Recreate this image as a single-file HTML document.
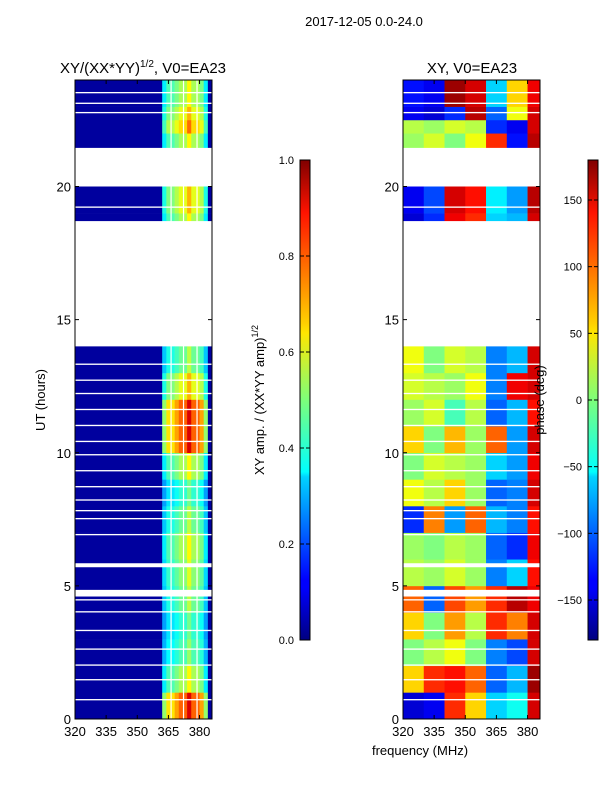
<!DOCTYPE html>
<html><head><meta charset="utf-8">
<style>
body{margin:0;background:#fff;}
svg{display:block;font-family:"Liberation Sans",sans-serif;}
</style></head>
<body>
<svg id="fig" width="600" height="800" viewBox="0 0 600 800">
<defs>
<linearGradient id="jetV" x1="0" y1="1" x2="0" y2="0">
<stop offset="0" stop-color="#000080"/><stop offset="0.11" stop-color="#0000ff"/>
<stop offset="0.125" stop-color="#0000ff"/><stop offset="0.34" stop-color="#00d4ff"/>
<stop offset="0.35" stop-color="#0ff"/><stop offset="0.5" stop-color="#7dff7a"/>
<stop offset="0.64" stop-color="#ffe600"/><stop offset="0.66" stop-color="#ffd000"/>
<stop offset="0.89" stop-color="#ff1300"/><stop offset="1" stop-color="#800000"/>
</linearGradient>
</defs>
<text x="364" y="26" font-size="13" text-anchor="middle">2017-12-05 0.0-24.0</text>
<g id="left"></g>
<g id="right"></g>
<text x="143" y="73" font-size="15" text-anchor="middle">XY/(XX*YY)<tspan dy="-6" font-size="10">1/2</tspan><tspan dy="6">, V0=EA23</tspan></text>
<text x="472" y="73" font-size="15" text-anchor="middle">XY, V0=EA23</text>
<text transform="translate(45,400) rotate(-90)" font-size="13" text-anchor="middle">UT (hours)</text>
<text x="420" y="755" font-size="13" text-anchor="middle">frequency (MHz)</text>
<g>
<rect x="300" y="160" width="10" height="480" fill="url(#jetV)" stroke="#000" stroke-width="1"/>
<g id="cb1"></g>
<text transform="translate(264,400) rotate(-90)" font-size="13" text-anchor="middle">XY amp. / (XX*YY amp)<tspan dy="-6" font-size="9">1/2</tspan></text>
</g>
<g>
<rect x="588" y="160" width="10" height="480" fill="url(#jetV)" stroke="#000" stroke-width="1"/>
<g id="cb2"></g>
<text transform="translate(544,400) rotate(-90)" font-size="13" text-anchor="middle">phase (deg)</text>
</g>
</svg>
<script>
// ---- data ----
const hours = [0,1,2,3,4,5,6,7,8,9,10,11,12,13,18.7,19,21.45,22,22.5,23];
const hourEnds = [1,2,3,4,5,6,7,8,9,10,11,12,13,14,19,20,22,22.5,23,24];
const ampLevel = [1.3,0.9,0.75,0.7,0.8,0.85,0.9,0.8,0.7,0.9,1.3,1.3,1.0,0.8,0.9,1.0,0.9,1.1,1.0,0.9];
const ampFreqs = [320,362,364,368,370,374,376,380,382,384];
const ampFreqEnds = [362,364,368,370,374,376,380,382,384,386];
const ampBase = [0.03,0.4,0.5,0.55,0.6,0.7,0.6,0.55,0.4,0.03];
const phaseFreqs = [320,330,340,350,360,370,380];
const phaseFreqEnds = [330,340,350,360,370,380,386];
const phaseVals = [
 [-150,-140,120,60,-60,-40,150],
 [60,120,130,100,-100,-70,170],
 [0,20,40,0,-90,-110,150],
 [60,0,80,20,120,90,150],
 [100,-100,110,80,120,160,140],
 [20,10,30,10,-90,-60,130],
 [10,0,20,10,-100,-120,140],
 [-120,90,-80,100,-70,-90,130],
 [40,20,60,10,-100,-90,150],
 [0,30,20,10,-60,-80,140],
 [60,0,70,10,100,-80,150],
 [10,30,-20,20,-100,-70,130],
 [30,20,10,40,-90,140,150],
 [40,0,30,20,-90,-70,150],
 [-150,-120,140,120,-60,-70,150],
 [-140,-110,150,130,-50,-80,160],
 [10,30,0,40,120,-130,160],
 [20,10,30,20,-120,-140,150],
 [-140,-150,-120,160,-100,40,150],
 [-130,-140,170,150,-60,60,140]
];
const flagStarts = [0.7,1.45,2.0,2.6,3.3,4.0,4.45,4.6,5.7,6.9,7.5,7.8,8.2,8.7,9.3,9.9,10.4,11.0,11.6,12.2,12.7,13.3,14.0,19.2,20.0,22.75,23.1,23.5];
const flagEnds   = [0.75,1.5,2.05,2.65,3.35,4.05,4.5,4.85,5.85,6.95,7.55,7.85,8.25,8.75,9.35,9.95,10.45,11.05,11.65,12.25,12.75,13.35,18.7,19.25,21.45,22.8,23.15,23.55];
const flagChans = [366,372,378.5];
const yTicks = [0,5,10,15,20];
const xTicks = [320,335,350,365,380];
const ampTicks = [0.0,0.2,0.4,0.6,0.8,1.0];
const phaseTicks = [-150,-100,-50,0,50,100,150];

// ---- helpers ----
const NS="http://www.w3.org/2000/svg";
const yS = h => 719 - h*(639/24);
function xS(x0){ return f => x0 + (f-320)*(137/66); }
function jet(v){
  v=Math.max(0,Math.min(1,v));
  const c=t=>Math.round(255*Math.max(0,Math.min(1,t)));
  const r=c(Math.min(4*v-1.5,-4*v+4.5)), g=c(Math.min(4*v-0.5,-4*v+3.5)), b=c(Math.min(4*v+0.5,-4*v+2.5));
  return `rgb(${r},${g},${b})`;
}
function mk(tag,attrs,parent){const e=document.createElementNS(NS,tag);for(const k in attrs)e.setAttribute(k,attrs[k]);parent.appendChild(e);return e;}

function drawPanel(g,x0,cellColor,name){
  const xs=xS(x0);
  const cells=document.createElementNS(NS,'g');g.appendChild(cells);
  for(let i=0;i<hours.length;i++){
    const freqs = name==='amp'?ampFreqs:phaseFreqs, ends=name==='amp'?ampFreqEnds:phaseFreqEnds;
    for(let j=0;j<freqs.length;j++){
      const y1=yS(hourEnds[i]), y2=yS(hours[i]);
      const r=mk('rect',{x:xs(freqs[j]),y:y1,width:xs(ends[j])-xs(freqs[j])+0.3,height:y2-y1+0.3,fill:cellColor(i,j)},cells);
      
      
    }
  }
  for(let k=0;k<flagStarts.length;k++){
    const y1=yS(flagEnds[k]), y2=yS(flagStarts[k]);
    const r=mk('rect',{x:x0,y:y1,width:137,height:Math.max(1.2,y2-y1),fill:'#fff'},g);
    
    
  }
  if(name==='amp'){
    for(const f of flagChans){
      const r=mk('rect',{x:xs(f),y:80,width:1.2,height:639,fill:'#fff'},g);
      
      
    }
  }
  const fr=mk('rect',{x:x0,y:80,width:137,height:639,fill:'none',stroke:'#000','stroke-width':1},g);
  
  
  for(const t of yTicks){
    const y=yS(t);
    mk('line',{x1:x0,x2:x0+4,y1:y,y2:y,stroke:'#000'},g);
    mk('line',{x1:x0+133,x2:x0+137,y1:y,y2:y,stroke:'#000'},g);
    const tx=mk('text',{x:x0-4,y:y+5,'font-size':13,'text-anchor':'end'},g);tx.textContent=t;
    
    
  }
  for(const t of xTicks){
    const x=xs(t);
    mk('line',{x1:x,x2:x,y1:719,y2:715,stroke:'#000'},g);
    mk('line',{x1:x,x2:x,y1:80,y2:84,stroke:'#000'},g);
    const tx=mk('text',{x:x,y:736,'font-size':13,'text-anchor':'middle'},g);tx.textContent=t;
    
    
  }
}
drawPanel(document.getElementById('left'),75,(i,j)=>jet(ampBase[j]*(ampBase[j]>0.1?ampLevel[i]:1)),'amp');
drawPanel(document.getElementById('right'),403,(i,j)=>jet((phaseVals[i][j]+180)/360),'phase');

function cbTicks(gid,x0,ticks,vmin,vmax,fmt){
  const g=document.getElementById(gid);
  for(const t of ticks){
    const y=640-(t-vmin)/(vmax-vmin)*480;
    mk('line',{x1:x0,x2:x0+4,y1:y,y2:y,stroke:'#000'},g);
    mk('line',{x1:x0+6,x2:x0+10,y1:y,y2:y,stroke:'#000'},g);
    const tx=mk('text',{x:x0-6,y:y+4,'font-size':11,'text-anchor':'end'},g);tx.textContent=fmt(t);
    
    
  }
}
cbTicks('cb1',300,ampTicks,0,1,t=>t.toFixed(1));
cbTicks('cb2',588,phaseTicks,-180,180,t=>t<0?'\u2212'+(-t):String(t));
</script>
</body></html>
